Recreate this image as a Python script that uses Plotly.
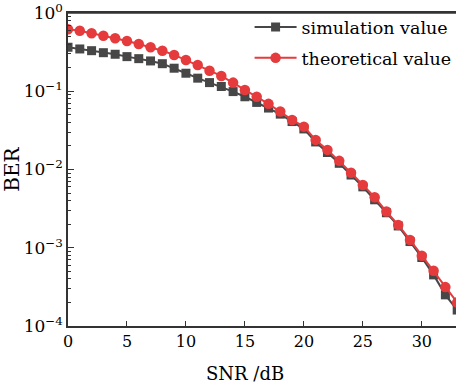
import plotly.graph_objects as go

snr_db = list(range(0, 34))

simulation_value = [0.365, 0.347, 0.330, 0.311, 0.297, 0.277, 0.261, 0.244, 0.225, 0.197,
                    0.170, 0.147, 0.129, 0.115, 0.099, 0.085, 0.072, 0.061, 0.051, 0.041,
                    0.033, 0.0225, 0.0165, 0.0120, 0.0085, 0.0060, 0.0041, 0.0028, 0.0019,
                    0.0012, 0.00075, 0.00045, 0.00025, 0.00016]

theoretical_value = [0.62, 0.594, 0.55, 0.513, 0.475, 0.439, 0.402, 0.365, 0.330, 0.291,
                     0.251, 0.217, 0.183, 0.157, 0.129, 0.104, 0.085, 0.069, 0.055, 0.043,
                     0.0353, 0.0239, 0.0178, 0.0129, 0.0091, 0.00635, 0.00443, 0.0029, 0.00196,
                     0.00126, 0.00079, 0.000507, 0.000314, 0.0002]

y_tick_vals = [1e-4, 1e-3, 1e-2, 1e-1, 1]
y_tick_text = ["10<sup>−4</sup>", "10<sup>−3</sup>", "10<sup>−2</sup>", "10<sup>−1</sup>", "10<sup>0</sup>"]
x_tick_vals = [0, 5, 10, 15, 20, 25, 30]

font_family = "DejaVu Serif"

fig = go.Figure()
fig.add_trace(go.Scatter(
    x=snr_db, y=simulation_value, name="simulation value",
    mode="lines+markers", legendgroup="a",
    line=dict(color="#474747", width=2),
    marker=dict(symbol="square", size=9, color="#474747"),
))
fig.add_trace(go.Scatter(
    x=snr_db, y=theoretical_value, name="theoretical value",
    mode="lines+markers", legendgroup="b",
    line=dict(color="#e53b3d", width=2),
    marker=dict(symbol="circle", size=10.5, color="#e53b3d"),
))

fig.update_layout(
    width=456, height=384,
    margin=dict(l=68, r=0, t=13, b=58, autoexpand=False),
    paper_bgcolor="white", plot_bgcolor="white",
    font=dict(family=font_family, size=16, color="black"),
    showlegend=True,
    legend=dict(x=0.468, y=1.012, xanchor="left", yanchor="top",
                bgcolor="rgba(0,0,0,0)", font=dict(size=17.5, family=font_family),
                itemwidth=42, tracegroupgap=5),
    shapes=[dict(type="line", xref="paper", yref="paper", x0=0, x1=1, y0=1, y1=1,
                 line=dict(color="#333", width=1.5), layer="above")],
    annotations=[dict(text="SNR /dB", xref="paper", yref="paper", x=0.456, y=0,
                      xanchor="center", yanchor="top", yshift=-35, showarrow=False,
                      font=dict(size=18, family=font_family, color="black"))],
)
fig.update_xaxes(
    range=[0, 32.9], tickvals=x_tick_vals,
    ticks="inside", ticklen=5, tickwidth=1.2, tickcolor="#333",
    showline=True, linecolor="#333", linewidth=1.5, mirror=True,
    showgrid=False, zeroline=False,
    tickfont=dict(size=16),
)
fig.update_yaxes(
    type="log", range=[-4, 0], tickvals=y_tick_vals, ticktext=y_tick_text,
    ticks="inside", ticklen=6, tickwidth=1.2, tickcolor="#333",
    minor=dict(ticks="inside", ticklen=3, tickcolor="#333", dtick="D1", showgrid=False),
    showline=True, linecolor="#333", linewidth=1.5,
    showgrid=False, zeroline=False,
    title=dict(text="BER", font=dict(size=20), standoff=13),
    tickfont=dict(size=17),
)

fig.write_html(
    "out.html",
    config={"displayModeBar": False},
    post_script="document.body.style.margin='0';document.body.style.overflow='hidden';",
)
